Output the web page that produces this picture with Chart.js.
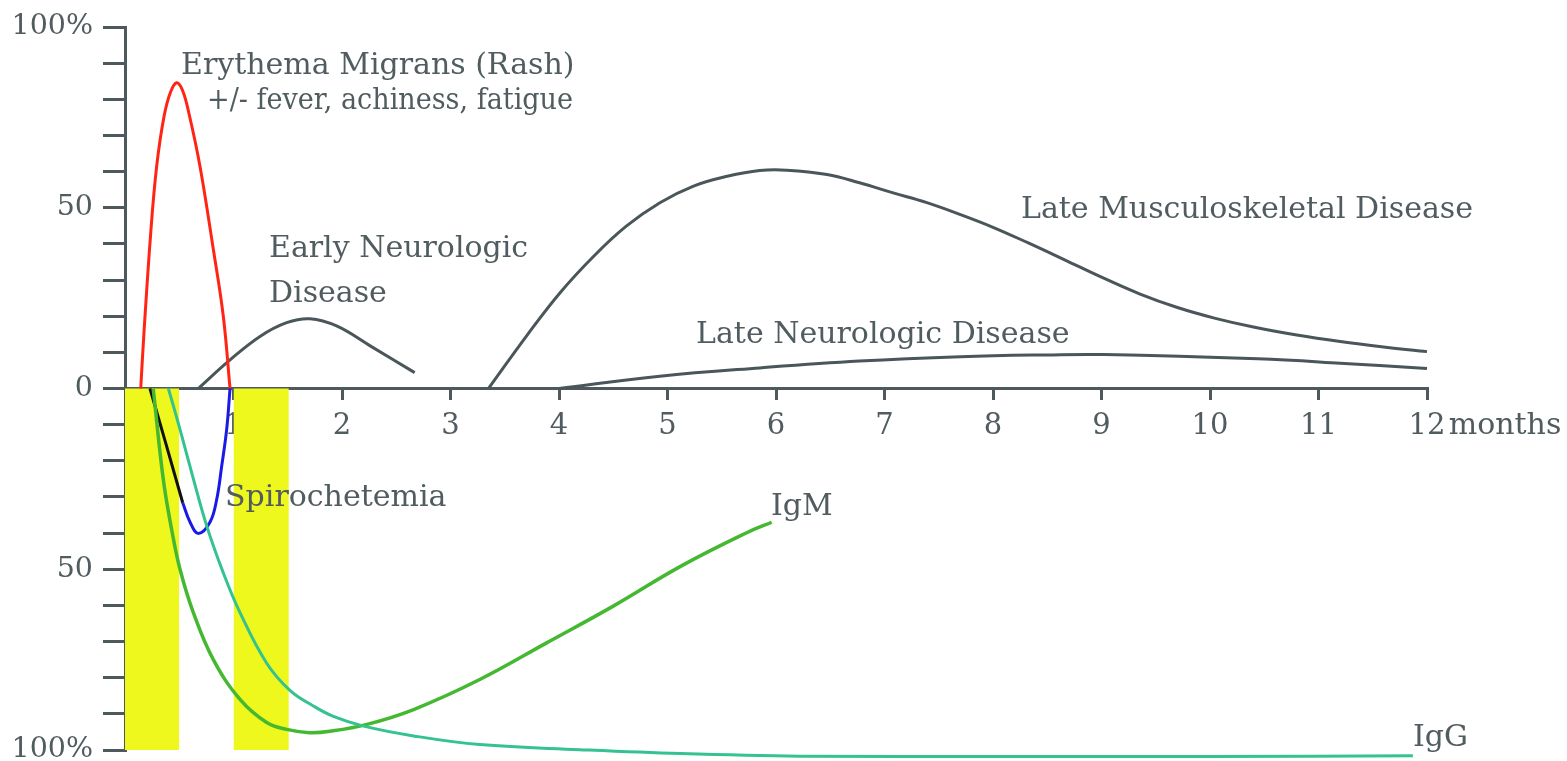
<!DOCTYPE html>
<html>
<head>
<meta charset="utf-8">
<script src="https://cdn.jsdelivr.net/npm/chart.js@4.4.1/dist/chart.umd.min.js"></script>
<style>
    html, body { margin: 0; padding: 0; background: #fff; }
    #wrap { width: 1567px; height: 761px; }
</style>
</head>
<body>
<div id="wrap"><canvas id="chartLyme"></canvas></div>
<script>
// x in months, y in % (negative = below the axis)
const rashX = [0.145, 0.175, 0.237, 0.292, 0.36, 0.42, 0.476, 0.53, 0.59, 0.691, 0.814, 0.906, 0.968];
const rashY = [0, 15.5, 43, 61.5, 75.3, 82, 84.6, 82.5, 76, 61.5, 38.5, 20, 0];

const earlyNeuroX = [0.676, 0.968, 1.244, 1.49, 1.705, 1.95, 2.26, 2.67];
const earlyNeuroY = [0, 7.9, 14.4, 18.2, 19.3, 17.3, 11.8, 4.4];

const muscX = [3.35, 3.70, 4.01, 4.32, 4.62, 4.93, 5.24, 5.55, 5.85, 6.10, 6.47, 6.77, 7.08, 7.39, 7.70, 8.0, 8.33, 8.66, 9.0, 9.35, 9.7, 10.05, 10.4, 10.8, 11.2, 11.6, 12.0];
const muscY = [0, 14.5, 26.5, 36.6, 44.9, 51.4, 56, 58.7, 60.3, 60.4, 59.2, 56.9, 54.1, 51.4, 48.1, 44.6, 40.2, 35.6, 30.8, 26.2, 22.4, 19.4, 17.0, 14.8, 13.0, 11.5, 10.2];

const lateNeuroX = [4.0, 4.93, 5.85, 6.77, 7.70, 8.5, 9.02, 10.44, 11.2, 12.0];
const lateNeuroY = [0, 3.4, 5.7, 7.6, 8.8, 9.3, 9.4, 8.2, 7, 5.5];

const spiroBlackX = [0.23, 0.384, 0.532];
const spiroBlackY = [0, -16, -31.6];
const spiroBlueX = [0.532, 0.6, 0.676, 0.783, 0.845, 0.891, 0.937, 0.968];
const spiroBlueY = [-31.6, -37, -40.1, -37, -30.7, -21.5, -11.3, 0];

const igmX = [0.26, 0.353, 0.43, 0.507, 0.63, 0.814, 1.06, 1.306, 1.49, 1.7, 1.89, 2.23, 2.66, 3.27, 3.89, 4.5, 5.12, 5.73, 5.96];
const igmY = [0, -25.2, -39, -50, -62, -75, -86, -92.4, -94.3, -95.2, -94.8, -92.9, -88.8, -80.5, -70.3, -60.2, -49.2, -39.9, -37];

const iggX = [0.4, 0.507, 0.63, 0.753, 0.906, 1.06, 1.306, 1.52, 1.74, 1.92, 2.2, 2.66, 3.27, 4.19, 5.12, 6.22, 8, 10, 11.87];
const iggY = [0, -11.3, -25, -38, -51, -62, -76, -83.5, -87.9, -90.7, -93.4, -96.1, -98.5, -99.9, -101, -101.7, -101.8, -101.8, -101.6];

// yellow bands: [from, to] in months, full depth below the axis
const bands = [[0, 0.5], [1, 1.51]];
const bandDepth = -100;

const xTicks = [1, 2, 3, 4, 5, 6, 7, 8, 9, 10, 11, 12];

// text labels: [text, month, %, max width px] left aligned on the baseline
const notes = [
    ["Erythema Migrans (Rash)", 0.516, 87.1],
    ["+/- fever, achiness, fatigue", 0.756, 77.2, 366],
    ["Early Neurologic", 1.327, 36.5],
    ["Disease", 1.327, 23.8],
    ["Late Musculoskeletal Disease", 8.258, 47.3],
    ["Late Neurologic Disease", 5.263, 12.7],
    ["Spirochetemia", 0.922, -32.6],
    ["IgM", 5.954, -34.9],
    ["IgG", 11.871, -99.0],
    ["months", 12.2, -12.7]
];

const FONT = "'DejaVu Serif', serif";
const TXT = "#505c5f";
const AXIS = "#4d595c";

const pts = (xs, ys) => xs.map((x, i) => ({ x, y: ys[i] }));

function curve(xs, ys, color, width, tension) {
    return {
        data: pts(xs, ys),
        borderColor: color,
        borderWidth: width,
        pointRadius: 0,
        fill: false,
        tension: tension,
        clip: false,
        order: 1
    };
}

const datasets = [];
bands.forEach(b => {
    datasets.push({
        data: [{ x: b[0], y: bandDepth }, { x: b[1], y: bandDepth }],
        borderWidth: 0,
        pointRadius: 0,
        backgroundColor: "#eef81c",
        fill: "origin",
        tension: 0,
        order: 5
    });
});
datasets.push(curve(iggX, iggY, "#34c290", 3, 0.4));
datasets.push(curve(igmX, igmY, "#45b832", 3.5, 0.4));
datasets.push(curve(spiroBlackX, spiroBlackY, "#111111", 3, 0));
datasets.push(curve(spiroBlueX, spiroBlueY, "#1a1ae6", 3, 0.4));
datasets.push(curve(rashX, rashY, "#ff2414", 3, 0.4));
datasets.push(curve(earlyNeuroX, earlyNeuroY, "#4a5659", 3, 0.4));
datasets.push(curve(muscX, muscY, "#4a5659", 3, 0.4));
datasets.push(curve(lateNeuroX, lateNeuroY, "#4a5659", 3, 0.4));

const notesPlugin = {
    id: "notes",
    afterDraw(chart) {
        const { ctx, scales } = chart;
        ctx.save();
        ctx.font = "30px " + FONT;
        ctx.fillStyle = TXT;
        ctx.textAlign = "left";
        ctx.textBaseline = "alphabetic";
        notes.forEach(n => {
            const px = scales.x.getPixelForValue(n[1]);
            const py = scales.y.getPixelForValue(n[2]);
            if (n[3]) ctx.fillText(n[0], px, py, n[3]);
            else ctx.fillText(n[0], px, py);
        });
        ctx.restore();
    }
};

const ctx = document.getElementById("chartLyme").getContext("2d");
new Chart(ctx, {
    type: "line",
    data: { datasets },
    options: {
        responsive: true,
        maintainAspectRatio: false,
        animation: false,
        events: [],
        layout: { padding: { left: 0, right: 140, top: 27, bottom: 11 } },
        plugins: { legend: { display: false }, tooltip: { enabled: false } },
        scales: {
            x: {
                type: "linear",
                position: { y: 0 },
                min: 0,
                max: 12,
                z: 1,
                afterBuildTicks: s => { s.ticks = [0].concat(xTicks).map(v => ({ value: v })); },
                ticks: {
                    color: TXT,
                    font: { family: FONT, size: 29 },
                    padding: 11,
                    maxRotation: 0,
                    autoSkip: false,
                    callback: v => (v === 0 ? "" : String(v))
                },
                grid: { drawOnChartArea: false, drawTicks: true, tickLength: 10, color: AXIS, lineWidth: 3 },
                border: { display: true, color: AXIS, width: 3 }
            },
            y: {
                type: "linear",
                min: -100,
                max: 100,
                z: 1,
                afterFit: s => { s.width = 125; },
                ticks: {
                    stepSize: 10,
                    color: TXT,
                    padding: 10,
                    // tiny line height so the end labels don't shrink the plot area
                    font: { family: FONT, size: 28.5, lineHeight: 0.05 },
                    callback: v => (Math.abs(v) === 100 ? "100%" : Math.abs(v) === 50 ? "50" : v === 0 ? "0" : "")
                },
                grid: { drawOnChartArea: false, drawTicks: true, tickLength: 22, color: AXIS, lineWidth: 3 },
                border: { display: true, color: AXIS, width: 3 }
            }
        }
    },
    plugins: [notesPlugin]
});
</script>
</body>
</html>
